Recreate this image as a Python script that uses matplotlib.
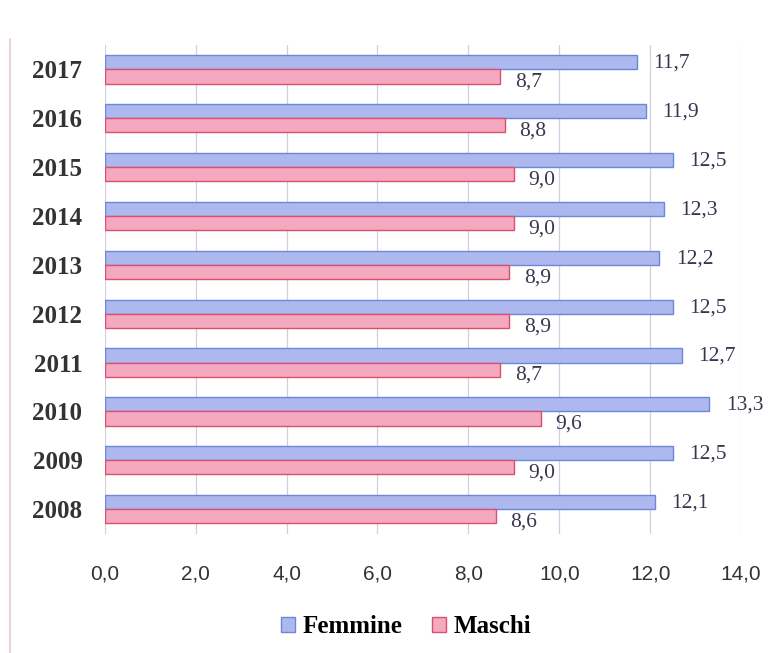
import matplotlib.pyplot as plt
from matplotlib.lines import Line2D
import numpy as np

anni = ['2008', '2009', '2010', '2011', '2012', '2013', '2014', '2015', '2016', '2017']
femmine = [12.1, 12.5, 13.3, 12.7, 12.5, 12.2, 12.3, 12.5, 11.9, 11.7]
maschi = [8.6, 9.0, 9.6, 8.7, 8.9, 8.9, 9.0, 9.0, 8.8, 8.7]
xticks = [0, 2, 4, 6, 8, 10, 12, 14]

c_f, e_f = '#adb9ee', '#6c86dc'
c_m, e_m = '#f5a9c0', '#db4f6c'
serif = ['Liberation Serif', 'DejaVu Serif']
narrow = ['Liberation Sans Narrow', 'Liberation Sans', 'DejaVu Sans']

fig = plt.figure(figsize=(7.81, 6.53), dpi=100)
ax = fig.add_axes([0.134, 0.183, 0.815, 0.748])

y = np.arange(len(anni))
h = 0.29
ax.barh(y + h / 2, femmine, height=h, color=c_f, edgecolor=e_f, linewidth=1, label='Femmine', zorder=3)
ax.barh(y - h / 2, maschi, height=h, color=c_m, edgecolor=e_m, linewidth=1, label='Maschi', zorder=3)

for i in range(len(anni)):
    ax.text(femmine[i] + 0.36, y[i] + h / 2 - 0.02, f'{femmine[i]:.1f}'.replace('.', ','),
            va='center', ha='left', fontsize=15.5, family=serif, color='#3a3550')
    ax.text(maschi[i] + 0.32, y[i] - h / 2 - 0.12, f'{maschi[i]:.1f}'.replace('.', ','),
            va='center', ha='left', fontsize=15.5, family=serif, color='#3a3550')

ax.set_xlim(0, 14)
ax.set_ylim(-0.5, 9.5)
ax.set_xticks(xticks)
ax.set_xticklabels([f'{v:.1f}'.replace('.', ',') for v in xticks], family=narrow, fontsize=15, color='#333333')
ax.set_yticks(y)
ax.set_yticklabels(anni, family=serif, fontsize=18, fontweight='bold', color='#333333')
ax.tick_params(axis='both', length=0)
ax.tick_params(axis='x', pad=22)
ax.tick_params(axis='y', pad=16)
ax.grid(axis='x', color='#d4cde0', linewidth=0.9, zorder=0)
for s in ax.spines.values():
    s.set_visible(False)

fig.legend(loc='center', bbox_to_anchor=(0.52, 0.04), ncol=2, frameon=False,
           prop={'family': serif, 'size': 18, 'weight': 'bold'},
           handlelength=0.55, handleheight=0.55, handletextpad=0.3, columnspacing=1.2)

# bordo della scansione
fig.add_artist(Line2D([0.013, 0.013], [0.0, 0.94], color='#e6c8dc', linewidth=1.2))

fig.savefig('out.png', dpi=100)
